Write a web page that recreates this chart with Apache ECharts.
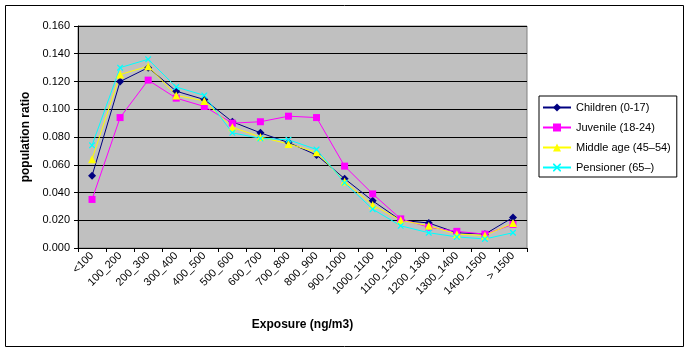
<!DOCTYPE html>
<html>
<head>
<meta charset="utf-8">
<script src="https://cdn.jsdelivr.net/npm/echarts@6/dist/echarts.min.js"></script>
<style>
  html, body { margin: 0; padding: 0; background: #fff; }
  #chart { width: 686px; height: 351px; }
</style>
</head>
<body>
<div id="chart"></div>
<script>
// exposure bands
var categories = ['<100', '100_200', '200_300', '300_400', '400_500', '500_600', '600_700', '700_800',
    '800_900', '900_1000', '1000_1100', '1100_1200', '1200_1300', '1300_1400', '1400_1500', '> 1500'];

var seriesNames = ['Children (0-17)', 'Juvenile (18-24)', 'Middle age (45\u201354)', 'Pensioner (65\u2013)'];

var children   = [0.052, 0.120, 0.130, 0.113, 0.107, 0.091, 0.083, 0.076, 0.067, 0.050, 0.034, 0.020, 0.018, 0.011, 0.010, 0.022];
var juvenile   = [0.035, 0.094, 0.121, 0.108, 0.102, 0.090, 0.091, 0.095, 0.094, 0.059, 0.039, 0.021, 0.015, 0.012, 0.010, 0.017];
var middleAge  = [0.064, 0.125, 0.131, 0.110, 0.106, 0.087, 0.080, 0.075, 0.069, 0.048, 0.031, 0.020, 0.016, 0.010, 0.009, 0.018];
var pensioner  = [0.074, 0.130, 0.136, 0.116, 0.110, 0.083, 0.079, 0.078, 0.071, 0.047, 0.028, 0.016, 0.011, 0.008, 0.0065, 0.011];

var yTicks = { min: 0, max: 0.16, step: 0.02 };

var font = 'Liberation Sans, Arial, sans-serif';
var xMark = 'path://M0,0 L1.5,0 L5,3.5 L8.5,0 L10,0 L10,1.5 L6.5,5 L10,8.5 L10,10 L8.5,10 L5,6.5 L1.5,10 L0,10 L0,8.5 L3.5,5 L0,1.5 Z';

function makeSeries(name, data, color, symbol, size) {
    return {
        name: name,
        type: 'line',
        data: data,
        symbol: symbol,
        symbolSize: size,
        showSymbol: true,
        lineStyle: { color: color, width: 1 },
        itemStyle: { color: color },
        animation: false
    };
}

var chart = echarts.init(document.getElementById('chart'));
var option = {
    backgroundColor: '#fff',
    textStyle: { fontFamily: font },
    animation: false,
    graphic: [{
        type: 'rect',
        shape: { x: 5.5, y: 5.5, width: 678, height: 341 },
        style: { fill: null, stroke: '#000', lineWidth: 1 },
        silent: true
    }],
    grid: {
        left: 78, top: 26, right: 159, bottom: 103,
        show: true,
        backgroundColor: '#C0C0C0',
        borderColor: '#808080',
        borderWidth: 1
    },
    legend: {
        orient: 'vertical',
        left: 539,
        top: 96,
        width: 137,
        padding: [6, 6, 4, 3],
        itemGap: 9,
        itemWidth: 28,
        itemHeight: 10,
        borderColor: '#000',
        borderWidth: 1,
        textStyle: { fontFamily: font, fontSize: 11, color: '#000' },
        data: seriesNames
    },
    xAxis: {
        type: 'category',
        data: categories,
        boundaryGap: true,
        name: 'Exposure (ng/m3)',
        nameLocation: 'middle',
        nameGap: 71,
        nameTextStyle: { fontFamily: font, fontSize: 12, fontWeight: 'bold', color: '#000' },
        axisLine: { lineStyle: { color: '#000', width: 1 } },
        axisTick: { show: true, length: 4, inside: false, alignWithLabel: false, lineStyle: { color: '#000' } },
        axisLabel: { interval: 0, rotate: 45, fontSize: 11, color: '#000', fontFamily: font, margin: 6 },
        splitLine: { show: false }
    },
    yAxis: {
        type: 'value',
        min: yTicks.min,
        max: yTicks.max,
        interval: yTicks.step,
        name: 'population ratio',
        nameLocation: 'middle',
        nameGap: 45,
        nameRotate: 90,
        nameTextStyle: { fontFamily: font, fontSize: 12, fontWeight: 'bold', color: '#000' },
        axisLine: { show: true, lineStyle: { color: '#000', width: 1 } },
        axisTick: { show: true, length: 4, lineStyle: { color: '#000' } },
        axisLabel: {
            fontSize: 11, color: '#000', fontFamily: font, margin: 8,
            formatter: function (v) { return v.toFixed(3); }
        },
        splitLine: { show: true, lineStyle: { color: '#000', width: 1 } }
    },
    series: [
        makeSeries(seriesNames[0], children, '#000080', 'diamond', 8),
        makeSeries(seriesNames[1], juvenile, '#FF00FF', 'rect', 7),
        makeSeries(seriesNames[2], middleAge, '#FFFF00', 'triangle', 8),
        makeSeries(seriesNames[3], pensioner, '#00FFFF', xMark, 6)
    ]
};
chart.setOption(option);
</script>
</body>
</html>
